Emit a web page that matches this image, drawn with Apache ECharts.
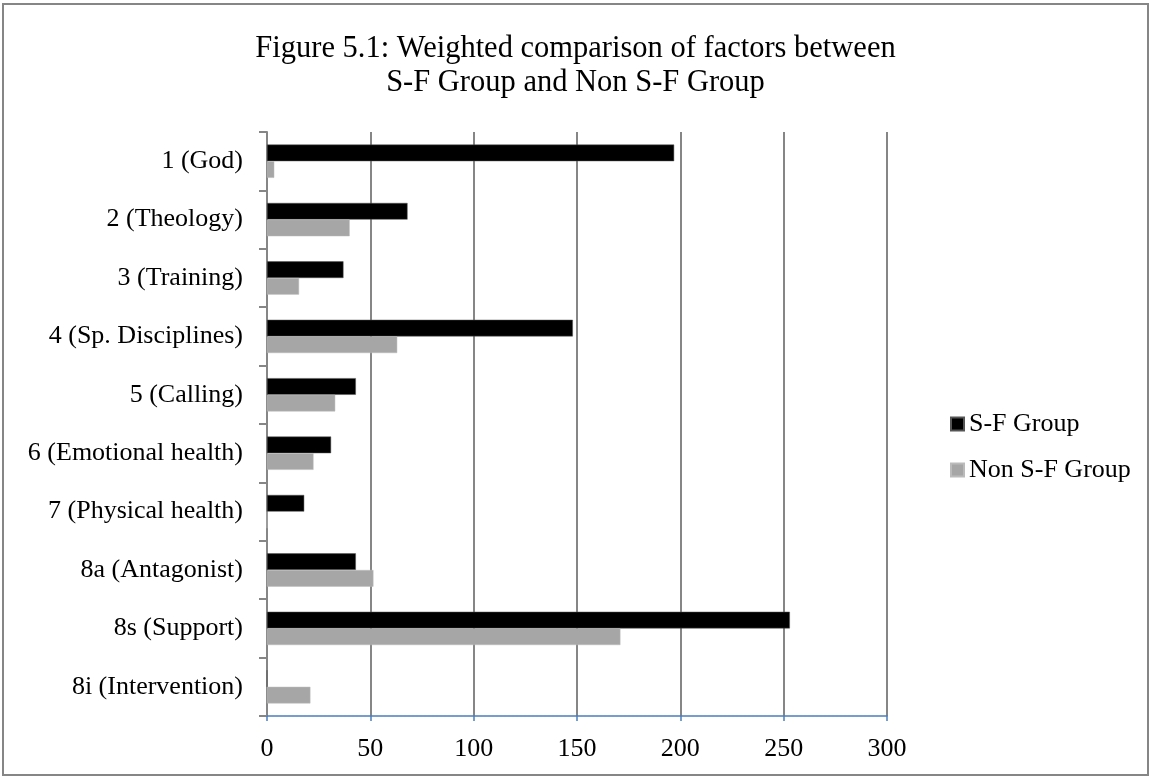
<!DOCTYPE html>
<html>
<head>
<meta charset="utf-8">
<script src="https://cdn.jsdelivr.net/npm/echarts@6/dist/echarts.min.js"></script>
<style>
  html, body { margin: 0; padding: 0; background: #fff; }
  #chart { width: 1151px; height: 778px; }
</style>
</head>
<body>
<div id="chart"></div>
<script>
const categories = [
  '1 (God)', '2 (Theology)', '3 (Training)', '4 (Sp. Disciplines)', '5 (Calling)',
  '6 (Emotional health)', '7 (Physical health)', '8a (Antagonist)', '8s (Support)', '8i (Intervention)'
];
const sfGroup = [197, 68, 37, 148, 43, 31, 18, 43, 253, 0];
const nonSfGroup = [3.5, 40, 15.5, 63, 33, 22.5, 0, 51.5, 171, 21];
const seriesNames = ['S-F Group', 'Non S-F Group'];

const serif = '"Liberation Serif", "Times New Roman", serif';

const chart = echarts.init(document.getElementById('chart'));

const option = {
  animation: false,
  backgroundColor: '#fff',
  title: {
    text: 'Figure 5.1: Weighted comparison of factors between\nS-F Group and Non S-F Group',
    left: 'center',
    top: 27,
    textStyle: {
      fontFamily: serif,
      fontWeight: 'normal',
      fontSize: 30.5,
      lineHeight: 34,
      color: '#000'
    }
  },
  // outer chart frame
  graphic: [
    {
      type: 'rect',
      shape: { x: 3, y: 4, width: 1145, height: 771 },
      style: { fill: 'none', stroke: '#868686', lineWidth: 2 },
      silent: true
    }
  ],
  legend: {
    orient: 'vertical',
    left: 945,
    top: 404,
    itemWidth: 13,
    itemHeight: 13,
    itemGap: 16,
    icon: 'rect',
    textStyle: { fontFamily: serif, fontSize: 26, lineHeight: 30, color: '#000' },
    data: seriesNames
  },
  grid: {
    left: 267,
    right: 264,
    top: 132,
    bottom: 62,
    containLabel: false
  },
  xAxis: {
    type: 'value',
    min: 0,
    max: 300,
    interval: 50,
    axisLine: { show: true, lineStyle: { color: '#4a7ebb', width: 1.5 } },
    axisTick: { show: true, length: 5, lineStyle: { color: '#4a7ebb', width: 1.5 } },
    axisLabel: { fontFamily: serif, fontSize: 26, color: '#000', margin: 20 },
    splitLine: { show: true, lineStyle: { color: '#868686', width: 2 } }
  },
  yAxis: {
    type: 'category',
    inverse: true,
    data: categories,
    axisLine: { show: true, lineStyle: { color: '#868686', width: 2 } },
    axisTick: { show: true, inside: false, length: 8, lineStyle: { color: '#868686', width: 2 } },
    axisLabel: { fontFamily: serif, fontSize: 26, color: '#000', margin: 24 }
  },
  series: [
    {
      name: seriesNames[0],
      type: 'bar',
      data: sfGroup,
      barGap: '0%',
      barCategoryGap: '43%',
      itemStyle: { color: '#000', borderColor: '#555', borderWidth: 0.5 }
    },
    {
      name: seriesNames[1],
      type: 'bar',
      data: nonSfGroup,
      itemStyle: { color: '#a6a6a6', borderColor: '#bbb', borderWidth: 0.5 }
    }
  ]
};

chart.setOption(option);
</script>
</body>
</html>
